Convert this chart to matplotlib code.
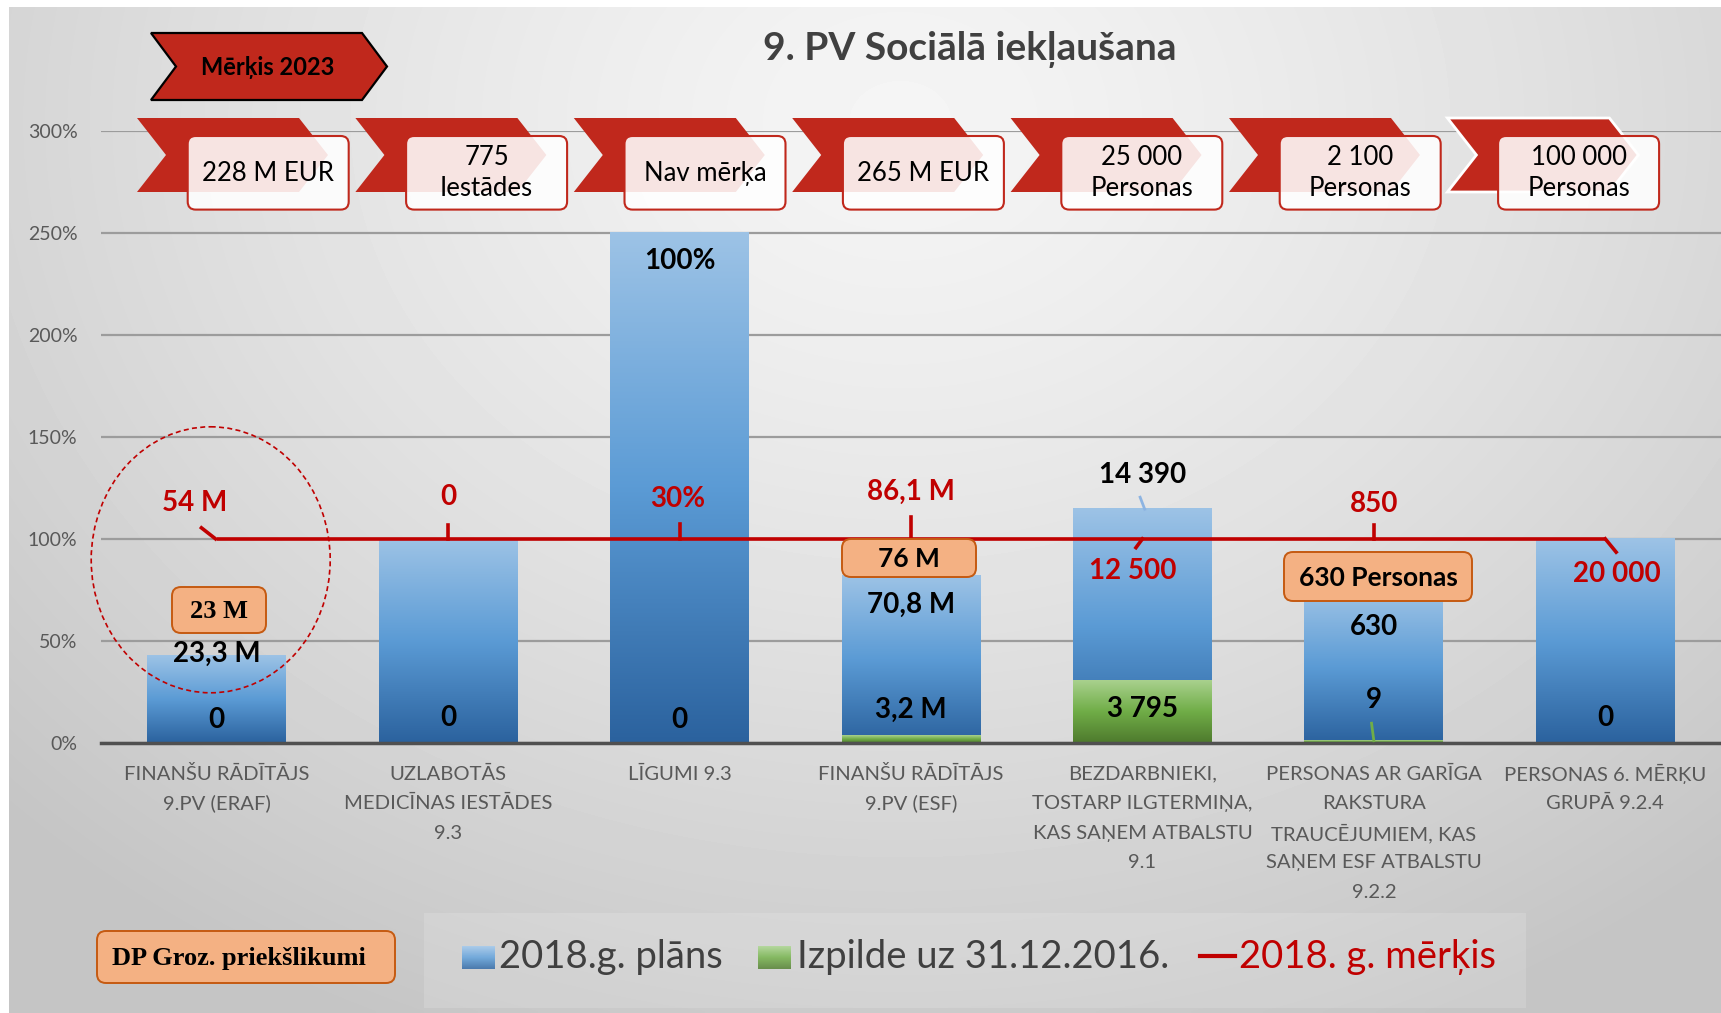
import numpy as np
import matplotlib
matplotlib.use('Agg')
import matplotlib.pyplot as plt
from matplotlib.colors import LinearSegmentedColormap
from matplotlib.patches import Polygon, FancyBboxPatch, Ellipse, Rectangle

plt.rcParams['font.family'] = ['Lato', 'DejaVu Sans']

# --- data ---
categories = ['FINANŠU RĀDĪTĀJS\n9.PV (ERAF)',
              'UZLABOTĀS\nMEDICĪNAS IESTĀDES\n9.3',
              'LĪGUMI 9.3',
              'FINANŠU RĀDĪTĀJS\n9.PV (ESF)',
              'BEZDARBNIEKI,\nTOSTARP ILGTERMIŅA,\nKAS SAŅEM ATBALSTU\n9.1',
              'PERSONAS AR GARĪGA\nRAKSTURA\nTRAUCĒJUMIEM, KAS\nSAŅEM ESF ATBALSTU\n9.2.2',
              'PERSONAS 6. MĒRĶU\nGRUPĀ 9.2.4']
plan_pct = [43.1, 100, 250, 82.2, 115.1, 74.1, 100]      # 2018.g. plāns
done_pct = [0, 0, 0, 3.7, 30.4, 1.1, 0]                  # Izpilde uz 31.12.2016.
target_pct = [100, 100, 100, 100, 100, 100, 100]         # 2018. g. mērķis
plan_labels = ['23,3 M', '', '100%', '70,8 M', '14 390', '630', '']
done_labels = ['0', '0', '0', '3,2 M', '3 795', '9', '0']
target_labels = ['54 M', '0', '30%', '86,1 M', '12 500', '850', '20 000']
goal_2023 = ['228 M EUR', '775\nIestādes', 'Nav mērķa', '265 M EUR',
             '25 000\nPersonas', '2 100\nPersonas', '100 000\nPersonas']
proposals = ['23 M', '76 M', '630 Personas']
yticks = [0, 50, 100, 150, 200, 250, 300]

W, H = 1721, 1013
RED = '#C00000'
CHEV = '#C0281C'
ORANGE = '#F4B183'
blue_cm = LinearSegmentedColormap.from_list('bl', ['#2B629E', '#5B9BD5', '#9DC3E6'])
green_cm = LinearSegmentedColormap.from_list('gr', ['#4E7A2D', '#70AD47', '#A9D18E'])

fig = plt.figure(figsize=(W / 100, H / 100), dpi=100)

# background gradient
bg = fig.add_axes([0, 0, 1, 1], zorder=0)
yy, xx = np.mgrid[0:H:4, 0:W:4]
r = np.clip(np.sqrt(((xx - 900) / 1250.0) ** 2 + ((yy - 120) / 1000.0) ** 2), 0, 1)
shade = 0.96 - 0.19 * r ** 1.3
bg.imshow(shade, cmap='gray', vmin=0, vmax=1, extent=[0, W, H, 0], aspect='auto',
          interpolation='bilinear')
bg.add_patch(Rectangle((0, 0), W, 7, fc='white', ec='none'))
bg.add_patch(Rectangle((0, 0), 9, H, fc='white', ec='none'))
bg.set_xlim(0, W)
bg.set_ylim(H, 0)
bg.axis('off')

# main chart
ax = fig.add_axes([101 / W, 1 - 743 / H, 1 - 101 / W, (743 - 130.6) / H], zorder=1)
ax.patch.set_alpha(0)
x = np.arange(len(categories))
grad = np.linspace(1, 0, 256).reshape(-1, 1)


def grad_bars(vals, cmap):
    bars = ax.bar(x, vals, width=0.6, color='none', edgecolor='none', zorder=2)
    for b in bars:
        if b.get_height() <= 0:
            continue
        ax.imshow(grad, cmap=cmap, vmin=0, vmax=1, aspect='auto', zorder=2,
                  extent=[b.get_x(), b.get_x() + b.get_width(), 0, b.get_height()],
                  origin='upper')
    return bars


grad_bars(plan_pct, blue_cm)
grad_bars(done_pct, green_cm)
ax.plot(x, target_pct, color=RED, lw=2.6, zorder=4, solid_capstyle='butt')

ax.set_xlim(-0.5, 6.5)
ax.set_ylim(0, 300)
ax.set_yticks(yticks)
ax.set_yticklabels([f'{v}%' for v in yticks], fontsize=14, color='#595959')
ax.set_xticks(x)
ax.set_xticklabels([''] * len(x))
ax.tick_params(axis='both', length=0)
ax.tick_params(axis='y', pad=17)
ax.set_axisbelow(True)
ax.yaxis.grid(True, color='#9c9c9c', lw=1.6)
for s in ['top', 'right', 'left']:
    ax.spines[s].set_visible(False)
ax.spines['bottom'].set_color('#505050')
ax.spines['bottom'].set_linewidth(2.5)

# category labels, one line at a time so the line pitch stays even
for i, cat in enumerate(categories):
    for j, line in enumerate(cat.split('\n')):
        ax.annotate(line, xy=(i, 0), xycoords=ax.get_xaxis_transform(),
                    xytext=(0, -(31 + 29.6 * j) * 0.72), textcoords='offset points',
                    ha='center', va='center', fontsize=14.6, color='#595959',
                    annotation_clip=False)

# value labels
plan_y = [43.5, 0, 236, 67.7, 131.2, 57, 0]
done_y = [11.3, 12.4, 11.3, 16.1, 16.7, 21, 12.4]
for i in x:
    if plan_labels[i]:
        ax.text(i, plan_y[i], plan_labels[i], ha='center', va='center', fontsize=20,
                fontweight='bold', color='black', zorder=6)
    ax.text(i, done_y[i], done_labels[i], ha='center', va='center', fontsize=20,
            fontweight='bold', color='black', zorder=6)
ax.plot([4 - 0.01, 4 + 0.01], [120.4, 114.5], color='#8DB4E2', lw=2, zorder=3)
ax.plot([5 - 0.01, 5.0], [9.7, 1.1], color='#70AD47', lw=2, zorder=3)

target_xy = [(-0.095, 117.7), (0, 120.4), (-0.01, 119.4), (0, 123.1),
             (-0.04, 84.4), (0, 117.2), (0.05, 82.8)]
for i, (dx, yv) in enumerate(target_xy):
    ax.text(i + dx, yv, target_labels[i], ha='center', va='center', fontsize=20,
            fontweight='bold', color=RED, zorder=6)
leaders = [((-0.066, -0.005), (105.4, 100)), ((1, 1), (107, 100)), ((2, 2), (107.5, 100)),
           ((3, 3), (110.7, 100)), ((4, 3.972), (100, 95.7)), ((5, 5), (107, 100)),
           ((6, 6.047), (100, 93.5))]
for lx, ly in leaders:
    ax.plot(lx, ly, color=RED, lw=2.6, zorder=4)

# overlay in pixel space for shapes
ov = fig.add_axes([0, 0, 1, 1], zorder=3)
ov.patch.set_alpha(0)


def chevron(L, T, B, w, d, **kw):
    M = (T + B) / 2
    ov.add_patch(Polygon([(L, T), (L + w, T), (L + w + d, M), (L + w, B), (L, B), (L + d, M)],
                         closed=True, **kw))


chevron(151, 33, 100, 211, 25, fc=CHEV, ec='black', lw=1.6)
ov.text(268, 67, 'Mērķis 2023', ha='center', va='center', fontsize=17, fontweight='bold')
ov.text(970, 49, '9. PV Sociālā iekļaušana', ha='center', va='center', fontsize=28,
        fontweight='bold', color='#404040')

for i, g in enumerate(goal_2023):
    bx = 187.7 + 218.4 * i
    chevron(bx - 50.7, 118, 192, 162, 29, fc=CHEV,
            ec='white' if i == 6 else 'none', lw=2)
    ov.add_patch(FancyBboxPatch((bx, 136), 161, 73.6,
                                boxstyle='round,pad=0,rounding_size=8',
                                fc=(1, 1, 1, 0.88), ec=CHEV, lw=1.5))
    ov.text(bx + 80.5, 173, g, ha='center', va='center', fontsize=18.5, linespacing=1.32)

# proposal boxes
prop_boxes = [(172, 587, 94, 46), (842, 539, 134, 38), (1284, 552, 188, 49)]
for (px, py, pw, ph), txt in zip(prop_boxes, proposals):
    ov.add_patch(FancyBboxPatch((px, py), pw, ph, boxstyle='round,pad=0,rounding_size=9',
                                fc=ORANGE, ec='#C55A11', lw=1.4))
    fam = ['Liberation Serif'] if txt == '23 M' else ['Lato', 'DejaVu Sans']
    ov.text(px + pw / 2, py + ph / 2 + 1, txt, ha='center', va='center', fontsize=19,
            fontweight='bold', family=fam)

ov.add_patch(Ellipse((210.7, 559.8), 239, 266, fill=False, ec=RED, lw=1.2,
                     ls=(0, (3, 2))))

# legend area
ov.add_patch(Rectangle((424, 913), 1102, 95, fc='white', alpha=0.15, ec='none'))
ov.add_patch(FancyBboxPatch((97, 931), 298, 52, boxstyle='round,pad=0,rounding_size=9',
                            fc=ORANGE, ec='#C55A11', lw=1.4))
ov.text(112, 958, 'DP Groz. priekšlikumi', ha='left', va='center', fontsize=19,
        fontweight='bold', family=['Liberation Serif'])
ov.imshow(grad, cmap=blue_cm, vmin=0, vmax=1, aspect='auto', extent=[462, 495, 969, 946])
ov.text(499, 957, '2018.g. plāns', ha='left', va='center', fontsize=27.5, color='#404040')
ov.imshow(grad, cmap=green_cm, vmin=0, vmax=1, aspect='auto', extent=[758, 791, 969, 946])
ov.text(797, 957, 'Izpilde uz 31.12.2016.', ha='left', va='center', fontsize=27.5,
        color='#404040')
ov.plot([1200, 1235], [956, 956], color=RED, lw=3)
ov.text(1239, 957, '2018. g. mērķis', ha='left', va='center', fontsize=27.5, color=RED)

ov.set_xlim(0, W)
ov.set_ylim(H, 0)
ov.axis('off')

fig.savefig('out.png', dpi=100)
